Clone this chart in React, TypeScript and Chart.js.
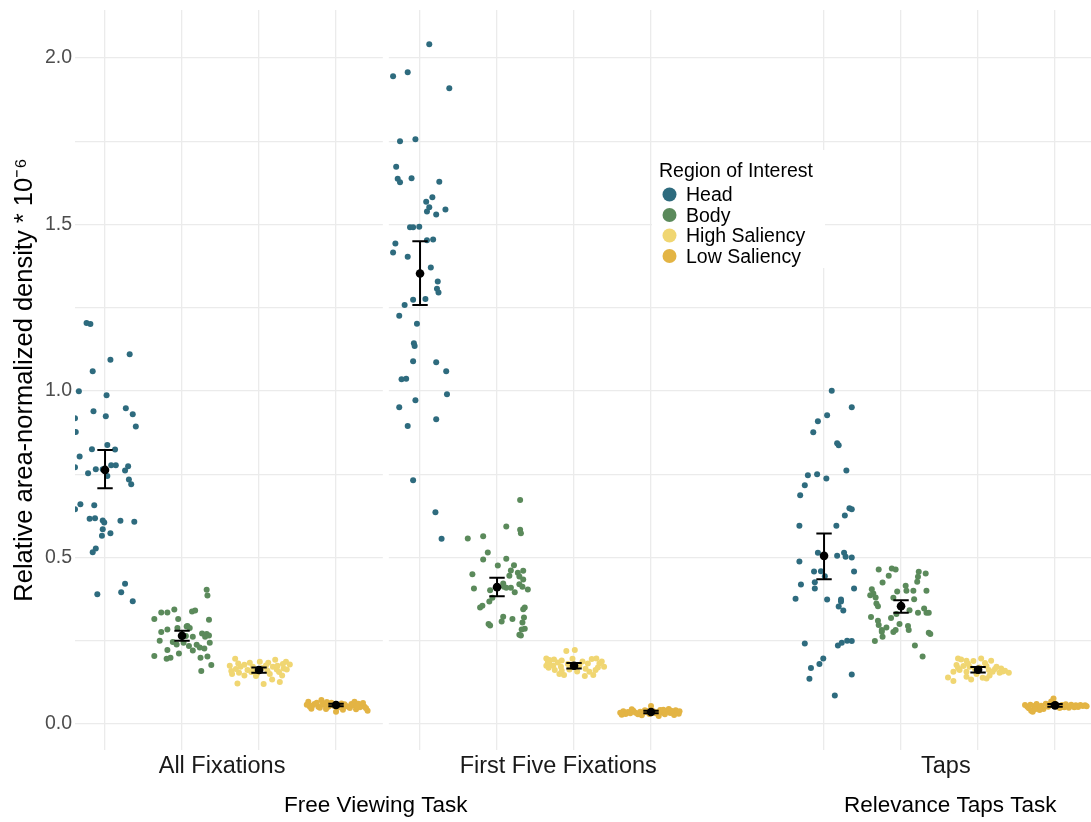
import React, { useEffect, useRef } from 'react';
import { Chart, registerables } from 'chart.js';
Chart.register(...registerables);

const FONT = "'Liberation Sans', Arial, Helvetica, sans-serif";

const REGIONS = ['Head', 'Body', 'High Saliency', 'Low Saliency'];
const COLORS = ['#2E6B7E', '#5B8A5B', '#F0D672', '#E3B444'];
const CONDITIONS = ['All Fixations', 'First Five Fixations', 'Taps'];
const TASKS = ['Free Viewing Task', 'Relevance Taps Task'];
const Y_TICKS = [0, 0.25, 0.5, 0.75, 1.0, 1.25, 1.5, 1.75, 2.0];
const LEGEND_TITLE = 'Region of Interest';
const Y_TITLE = 'Relative area-normalized density * 10⁻⁶';

// [jitter (category units), value]
const allHead: [number, number][] = [
  [-0.24, 1.204], [-0.19, 1.201], [0.32, 1.11], [0.07, 1.094], [-0.16, 1.059], [-0.34, 0.999],
  [0.02, 0.987], [-0.39, 0.918], [-0.15, 0.939], [0.01, 0.924], [0.27, 0.948], [0.36, 0.93],
  [-0.38, 0.877], [0.4, 0.893], [-0.33, 0.803], [-0.17, 0.825], [0.03, 0.838], [0.13, 0.824],
  [-0.39, 0.771], [-0.22, 0.753], [-0.12, 0.765], [0.08, 0.777], [0.14, 0.777], [0.3, 0.774],
  [0.26, 0.761], [0.31, 0.734], [0.34, 0.72], [-0.39, 0.645], [-0.32, 0.66], [-0.14, 0.657],
  [-0.2, 0.616], [-0.13, 0.618], [-0.03, 0.611], [-0.01, 0.605], [0.2, 0.61], [0.38, 0.607],
  [-0.03, 0.585], [0.07, 0.573], [-0.04, 0.565], [-0.12, 0.527], [-0.16, 0.516], [0.26, 0.421],
  [-0.1, 0.39], [0.21, 0.396], [0.36, 0.369], [-0.03, 0.765], [0.03, 0.745],
];
const allBody: [number, number][] = [
  [0.32, 0.403], [0.33, 0.386], [-0.36, 0.315], [-0.27, 0.335], [-0.19, 0.335], [-0.1, 0.344],
  [0.13, 0.338], [0.17, 0.341], [-0.05, 0.315], [0.35, 0.313], [-0.19, 0.284], [-0.27, 0.276],
  [-0.06, 0.288], [0.06, 0.293], [0.07, 0.294], [0.26, 0.272], [0.32, 0.27], [0.35, 0.266],
  [0.14, 0.262], [-0.29, 0.25], [-0.07, 0.239], [0.02, 0.244], [0.09, 0.234], [0.19, 0.238],
  [0.23, 0.23], [0.29, 0.227], [0.36, 0.244], [-0.19, 0.222], [0.14, 0.221], [-0.04, 0.212],
  [-0.36, 0.204], [-0.2, 0.196], [-0.15, 0.199], [0.24, 0.199], [0.33, 0.203], [0.38, 0.177],
  [0.25, 0.159], [-0.12, 0.246], [0.05, 0.264], [0.1, 0.288], [0.3, 0.262],
];
const allHigh: [number, number][] = [
  [-0.31, 0.196], [-0.38, 0.175], [-0.36, 0.159], [-0.27, 0.182], [-0.24, 0.172], [-0.26, 0.154],
  [-0.28, 0.122], [-0.15, 0.162], [-0.08, 0.172], [-0.04, 0.144], [-0.03, 0.15], [0.06, 0.12],
  [0.01, 0.187], [0.12, 0.184], [0.11, 0.16], [0.17, 0.134], [0.21, 0.193], [0.18, 0.172],
  [0.23, 0.164], [0.27, 0.126], [0.3, 0.146], [0.35, 0.187], [0.4, 0.179], [0.32, 0.167],
  [0.36, 0.164], [-0.35, 0.15], [-0.19, 0.146], [-0.1, 0.156], [0.26, 0.156], [-0.3, 0.165],
  [0.04, 0.168], [0.09, 0.176], [0.14, 0.15], [-0.19, 0.178], [-0.12, 0.184], [0.31, 0.18],
  [-0.06, 0.16], [0.24, 0.175],
];
const allLow: [number, number][] = [
  [-0.36, 0.067], [-0.34, 0.052], [-0.28, 0.06], [-0.23, 0.052], [-0.19, 0.072], [-0.15, 0.057],
  [-0.1, 0.052], [-0.06, 0.064], [0.0, 0.037], [0.05, 0.057], [0.11, 0.059], [0.16, 0.052],
  [0.2, 0.06], [0.24, 0.067], [0.26, 0.044], [0.33, 0.057], [0.37, 0.052], [0.41, 0.04],
  [-0.38, 0.058], [-0.31, 0.055], [-0.25, 0.064], [-0.21, 0.049], [-0.17, 0.061], [-0.12, 0.066],
  [-0.08, 0.058], [-0.03, 0.055], [0.02, 0.049], [0.07, 0.062], [0.13, 0.054], [0.18, 0.048],
  [0.22, 0.056], [0.29, 0.061], [0.31, 0.05], [0.35, 0.063], [0.39, 0.047], [-0.32, 0.046],
  [-0.13, 0.045], [0.09, 0.043], [0.27, 0.053],
];

const firstHead: [number, number][] = [
  [0.12, 2.041], [-0.35, 1.945], [-0.16, 1.957], [0.38, 1.909], [-0.26, 1.75], [-0.06, 1.756],
  [-0.31, 1.673], [-0.29, 1.637], [-0.26, 1.627], [-0.11, 1.639], [0.25, 1.628], [0.08, 1.568],
  [0.16, 1.582], [0.12, 1.552], [0.09, 1.539], [0.21, 1.53], [0.33, 1.545], [-0.13, 1.492],
  [-0.09, 1.492], [-0.01, 1.493], [0.09, 1.453], [0.17, 1.455], [-0.32, 1.443], [-0.35, 1.416],
  [-0.16, 1.403], [0.14, 1.371], [0.23, 1.329], [0.22, 1.307], [0.24, 1.296], [-0.09, 1.274],
  [0.07, 1.276], [-0.2, 1.258], [-0.27, 1.226], [-0.04, 1.202], [-0.08, 1.143], [-0.07, 1.135],
  [-0.09, 1.089], [0.21, 1.086], [0.34, 1.059], [-0.24, 1.035], [-0.18, 1.037], [0.35, 0.99],
  [-0.06, 0.972], [-0.27, 0.951], [0.21, 0.915], [-0.16, 0.895], [-0.09, 0.732], [0.2, 0.636],
  [0.28, 0.556],
];
const firstBody: [number, number][] = [
  [0.3, 0.673], [0.12, 0.593], [0.3, 0.583], [0.31, 0.573], [-0.38, 0.557], [-0.18, 0.564],
  [-0.12, 0.515], [-0.18, 0.494], [0.12, 0.496], [0.01, 0.476], [0.22, 0.477], [0.18, 0.461],
  [0.27, 0.454], [0.34, 0.46], [-0.32, 0.45], [0.16, 0.445], [0.29, 0.443], [0.34, 0.434],
  [0.08, 0.422], [0.12, 0.409], [0.18, 0.409], [0.29, 0.42], [0.33, 0.412], [0.4, 0.404],
  [-0.3, 0.407], [-0.09, 0.402], [-0.06, 0.379], [0.23, 0.396], [-0.1, 0.368], [-0.22, 0.35],
  [-0.19, 0.355], [0.34, 0.345], [0.36, 0.35], [0.08, 0.322], [0.06, 0.308], [0.2, 0.315],
  [0.35, 0.32], [0.33, 0.305], [0.32, 0.284], [0.36, 0.286], [-0.11, 0.3], [-0.09, 0.296],
  [0.29, 0.268], [0.31, 0.266], [0.09, 0.412],
];
const firstHigh: [number, number][] = [
  [-0.1, 0.219], [0.01, 0.222], [-0.36, 0.197], [-0.32, 0.192], [-0.26, 0.194], [-0.36, 0.175],
  [-0.33, 0.169], [-0.27, 0.175], [-0.17, 0.172], [-0.16, 0.191], [-0.19, 0.15], [-0.13, 0.147],
  [-0.06, 0.164], [-0.02, 0.196], [0.07, 0.175], [0.14, 0.144], [0.18, 0.182], [0.23, 0.195],
  [0.29, 0.197], [0.33, 0.182], [0.39, 0.172], [0.2, 0.157], [0.25, 0.147], [0.28, 0.162],
  [-0.25, 0.162], [-0.32, 0.182], [-0.21, 0.185], [-0.08, 0.18], [0.11, 0.188], [0.31, 0.17],
  [0.15, 0.166], [0.04, 0.158], [-0.16, 0.16], [0.36, 0.188], [-0.34, 0.185],
];
const firstLow: [number, number][] = [
  [-0.4, 0.034], [-0.36, 0.038], [-0.33, 0.03], [-0.3, 0.036], [-0.27, 0.032], [-0.23, 0.04],
  [-0.2, 0.034], [-0.17, 0.029], [-0.14, 0.037], [-0.11, 0.033], [-0.08, 0.041], [-0.05, 0.035],
  [-0.02, 0.03], [0.0, 0.054], [0.03, 0.038], [0.06, 0.032], [0.09, 0.036], [0.12, 0.042],
  [0.15, 0.034], [0.18, 0.029], [0.2, 0.039], [0.23, 0.045], [0.25, 0.033], [0.28, 0.037],
  [0.3, 0.027], [0.32, 0.041], [0.34, 0.035], [0.36, 0.031], [0.37, 0.038], [-0.38, 0.028],
  [-0.25, 0.044], [-0.12, 0.026], [0.1, 0.024], [0.26, 0.04], [-0.06, 0.039], [0.16, 0.043],
];

const tapsHead: [number, number][] = [
  [0.1, 1.001], [0.36, 0.951], [0.04, 0.927], [-0.08, 0.909], [-0.14, 0.876], [0.17, 0.843],
  [0.19, 0.837], [0.29, 0.761], [-0.21, 0.747], [-0.09, 0.75], [0.03, 0.737], [-0.25, 0.717],
  [-0.31, 0.687], [0.33, 0.648], [0.36, 0.645], [0.27, 0.626], [-0.32, 0.595], [0.16, 0.595],
  [-0.08, 0.514], [0.17, 0.505], [0.26, 0.514], [0.28, 0.502], [0.36, 0.5], [-0.32, 0.488],
  [-0.13, 0.458], [-0.04, 0.459], [0.01, 0.444], [0.39, 0.458], [-0.3, 0.419], [-0.12, 0.426],
  [-0.12, 0.407], [0.39, 0.407], [-0.37, 0.376], [0.04, 0.374], [0.22, 0.374], [0.22, 0.368],
  [0.19, 0.353], [0.25, 0.341], [-0.25, 0.242], [0.18, 0.236], [0.23, 0.244], [0.3, 0.25],
  [0.36, 0.249], [-0.01, 0.197], [-0.17, 0.168], [-0.06, 0.18], [-0.19, 0.136], [0.36, 0.149],
  [0.14, 0.086],
];
const tapsBody: [number, number][] = [
  [-0.29, 0.464], [-0.12, 0.467], [-0.07, 0.464], [-0.16, 0.445], [0.23, 0.457], [0.32, 0.452],
  [0.22, 0.442], [-0.24, 0.425], [0.21, 0.427], [0.06, 0.415], [-0.38, 0.405], [-0.36, 0.392],
  [-0.4, 0.387], [-0.33, 0.38], [-0.05, 0.398], [0.07, 0.4], [0.16, 0.4], [0.33, 0.4],
  [-0.1, 0.379], [0.17, 0.375], [-0.32, 0.362], [-0.3, 0.354], [0.3, 0.347], [0.33, 0.334],
  [0.36, 0.334], [0.11, 0.342], [0.22, 0.334], [-0.06, 0.33], [-0.39, 0.321], [-0.13, 0.318],
  [-0.3, 0.31], [-0.29, 0.297], [-0.02, 0.3], [0.09, 0.294], [0.1, 0.282], [-0.19, 0.29],
  [-0.25, 0.282], [-0.25, 0.277], [-0.1, 0.276], [-0.07, 0.282], [0.36, 0.274], [0.38, 0.27],
  [-0.24, 0.262], [-0.34, 0.249], [0.18, 0.236], [0.28, 0.203],
];
const tapsHigh: [number, number][] = [
  [-0.26, 0.197], [-0.22, 0.194], [-0.15, 0.19], [-0.06, 0.189], [0.04, 0.197], [0.17, 0.19],
  [-0.28, 0.177], [-0.19, 0.174], [-0.11, 0.172], [0.11, 0.174], [0.24, 0.172], [0.3, 0.167],
  [0.14, 0.162], [0.19, 0.157], [0.28, 0.154], [0.35, 0.16], [0.4, 0.154], [-0.32, 0.157],
  [-0.24, 0.162], [-0.15, 0.157], [-0.39, 0.14], [-0.32, 0.129], [-0.15, 0.142], [-0.09, 0.134],
  [0.06, 0.139], [0.11, 0.137], [-0.04, 0.165], [0.02, 0.17], [0.22, 0.165], [-0.13, 0.181],
  [0.09, 0.183], [0.32, 0.158], [-0.26, 0.168], [0.15, 0.146], [-0.02, 0.15],
];
const tapsLow: [number, number][] = [
  [-0.39, 0.057], [-0.36, 0.052], [-0.34, 0.047], [-0.31, 0.04], [-0.29, 0.037], [-0.27, 0.054],
  [-0.24, 0.06], [-0.21, 0.048], [-0.18, 0.055], [-0.15, 0.045], [-0.12, 0.061], [-0.09, 0.052],
  [-0.05, 0.068], [-0.02, 0.077], [0.0, 0.062], [0.03, 0.053], [0.06, 0.048], [0.09, 0.057],
  [0.12, 0.05], [0.15, 0.055], [0.18, 0.049], [0.21, 0.058], [0.24, 0.053], [0.27, 0.056],
  [0.3, 0.051], [0.33, 0.057], [0.36, 0.054], [0.39, 0.056], [0.41, 0.053], [-0.32, 0.058],
  [-0.2, 0.042], [-0.07, 0.058], [0.08, 0.051], [0.25, 0.05], [-0.26, 0.044], [0.14, 0.059],
];

// summary: mean, lower, upper per region (Head, Body, High, Low)
const allMean = [0.763, 0.265, 0.162, 0.057];
const allLower = [0.708, 0.25, 0.154, 0.053];
const allUpper = [0.823, 0.28, 0.17, 0.061];
const firstMean = [1.353, 0.411, 0.175, 0.036];
const firstLower = [1.258, 0.384, 0.167, 0.032];
const firstUpper = [1.45, 0.439, 0.183, 0.04];
const tapsMean = [0.505, 0.354, 0.163, 0.056];
const tapsLower = [0.435, 0.334, 0.155, 0.052];
const tapsUpper = [0.572, 0.372, 0.171, 0.06];

// layout (x in category units)
const PANEL_START = [0, 4.091, 9.338];
const X_MIN = -0.39;
const X_MAX = 12.805;
const STRIP_POS = [1.52, 5.886, 10.92];
const TASK_POS = [3.516, 10.977];
const PANEL_GAP = [3.608, 3.686];
const CAP_HALF = 0.1;

const GROUPS = [
  [allHead, allBody, allHigh, allLow],
  [firstHead, firstBody, firstHigh, firstLow],
  [tapsHead, tapsBody, tapsHigh, tapsLow],
];
const SUMMARY = [
  [allMean, allLower, allUpper],
  [firstMean, firstLower, firstUpper],
  [tapsMean, tapsLower, tapsUpper],
];

function noPad(s: any) {
  s.paddingTop = 0;
  s.paddingBottom = 0;
  s.paddingLeft = 0;
  s.paddingRight = 0;
}

export default function App() {
  const ref = useRef<HTMLCanvasElement | null>(null);
  useEffect(() => {
    if (!ref.current) return;
    const datasets: any[] = REGIONS.map((name, r) => ({
      label: name,
      data: GROUPS.flatMap((g, p) => g[r].map(([j, v]) => ({ x: PANEL_START[p] + r + j, y: v }))),
      backgroundColor: COLORS[r],
      borderWidth: 0,
      pointRadius: 3,
      order: 2,
    }));
    datasets.push({
      label: 'Mean',
      data: SUMMARY.flatMap((s, p) => s[0].map((m, r) => ({ x: PANEL_START[p] + r, y: m }))),
      backgroundColor: '#000000',
      borderWidth: 0,
      pointRadius: 4.3,
      order: 0,
    });

    const gapPlugin = {
      id: 'gap',
      beforeDatasetsDraw(chart: any) {
        const { ctx, chartArea, scales } = chart;
        const x0 = scales.x.getPixelForValue(PANEL_GAP[0]);
        const x1 = scales.x.getPixelForValue(PANEL_GAP[1]);
        ctx.save();
        ctx.fillStyle = '#ffffff';
        ctx.fillRect(x0, chartArea.top - 1, x1 - x0, chartArea.bottom - chartArea.top + 2);
        ctx.restore();
      },
    };

    const errorPlugin = {
      id: 'errorbars',
      afterDatasetsDraw(chart: any) {
        const { ctx, scales } = chart;
        const xs = scales.x;
        const ys = scales.y;
        ctx.save();
        ctx.strokeStyle = '#000000';
        ctx.lineWidth = 2;
        SUMMARY.forEach((s, p) => {
          s[0].forEach((_m, r) => {
            const xc = PANEL_START[p] + r;
            const px = xs.getPixelForValue(xc);
            const pl = xs.getPixelForValue(xc - CAP_HALF);
            const pr = xs.getPixelForValue(xc + CAP_HALF);
            const yl = ys.getPixelForValue(s[1][r]);
            const yu = ys.getPixelForValue(s[2][r]);
            ctx.beginPath();
            ctx.moveTo(px, yl);
            ctx.lineTo(px, yu);
            ctx.moveTo(pl, yl);
            ctx.lineTo(pr, yl);
            ctx.moveTo(pl, yu);
            ctx.lineTo(pr, yu);
            ctx.stroke();
          });
        });
        ctx.restore();
      },
    };

    const legendPlugin = {
      id: 'customLegend',
      afterDraw(chart: any) {
        const { ctx } = chart;
        ctx.save();
        ctx.fillStyle = '#ffffff';
        ctx.fillRect(652, 150, 173, 118);
        ctx.fillStyle = '#000000';
        ctx.font = `19.5px ${FONT}`;
        ctx.textBaseline = 'alphabetic';
        ctx.textAlign = 'left';
        ctx.fillText(LEGEND_TITLE, 659, 176.7);
        REGIONS.forEach((name, i) => {
          const cy = 194.5 + i * 20.5;
          ctx.beginPath();
          ctx.fillStyle = chart.data.datasets[i].backgroundColor;
          ctx.arc(669.5, cy, 7, 0, Math.PI * 2);
          ctx.fill();
          ctx.fillStyle = '#000000';
          ctx.fillText(name, 686, cy + 6.8);
        });
        ctx.restore();
      },
    };

    const chart = new Chart(ref.current, {
      type: 'scatter',
      data: { datasets },
      plugins: [gapPlugin, errorPlugin, legendPlugin],
      options: {
        animation: false,
        responsive: false,
        layout: { padding: { top: 10, left: 0, right: 0, bottom: 0 }, autoPadding: false },
        plugins: { legend: { display: false }, tooltip: { enabled: false } },
        scales: {
          x: {
            type: 'linear',
            position: 'bottom',
            weight: 1,
            min: X_MIN,
            max: X_MAX,
            afterBuildTicks: (s: any) => {
              s.ticks = PANEL_START.flatMap((p) => [0, 1, 2, 3].map((r) => ({ value: p + r })));
            },
            afterFit: (s: any) => { s.height = 0; noPad(s); },
            ticks: { display: false },
            grid: { color: '#EBEBEB', lineWidth: 1.3, drawTicks: false },
            border: { display: false },
          },
          x2: {
            type: 'linear',
            position: 'bottom',
            weight: 2,
            min: X_MIN,
            max: X_MAX,
            afterBuildTicks: (s: any) => { s.ticks = STRIP_POS.map((v) => ({ value: v })); },
            afterFit: (s: any) => { s.height = 40; noPad(s); },
            ticks: {
              autoSkip: false, maxRotation: 0, minRotation: 0, padding: 2,
              color: '#1A1A1A', font: { family: FONT, size: 23.5 },
              callback: (_v: any, i: number) => CONDITIONS[i],
            },
            grid: { display: false, drawTicks: false },
            border: { display: false },
          },
          x3: {
            type: 'linear',
            position: 'bottom',
            weight: 3,
            min: X_MIN,
            max: X_MAX,
            afterBuildTicks: (s: any) => { s.ticks = TASK_POS.map((v) => ({ value: v })); },
            afterFit: (s: any) => { s.height = 32; noPad(s); },
            ticks: {
              autoSkip: false, maxRotation: 0, minRotation: 0, padding: 2,
              color: '#000000', font: { family: FONT, size: 22.5 },
              callback: (_v: any, i: number) => TASKS[i],
            },
            grid: { display: false, drawTicks: false },
            border: { display: false },
          },
          y: {
            type: 'linear',
            position: 'left',
            min: -0.078,
            max: 2.144,
            afterBuildTicks: (s: any) => { s.ticks = Y_TICKS.map((v) => ({ value: v })); },
            afterFit: (s: any) => { s.width = 75; noPad(s); },
            ticks: {
              padding: 3,
              color: '#4D4D4D',
              font: { family: FONT, size: 19.5 },
              callback: (v: any) => (Math.abs(v * 2 - Math.round(v * 2)) < 1e-6 ? Number(v).toFixed(1) : ''),
            },
            grid: { color: '#EBEBEB', lineWidth: 1.3, drawTicks: false },
            border: { display: false },
            title: {
              display: true,
              text: Y_TITLE,
              color: '#000000',
              font: { family: FONT, size: 25.5 },
              padding: { top: 10, bottom: 0 },
            },
          },
        },
      } as any,
    });
    return () => chart.destroy();
  }, []);

  return (
    <div style={{ position: 'absolute', left: 0, top: 0, width: 1091, height: 822, background: '#fff' }}>
      <canvas ref={ref} width={1091} height={822} style={{ display: 'block', width: 1091, height: 822 }} />
    </div>
  );
}
